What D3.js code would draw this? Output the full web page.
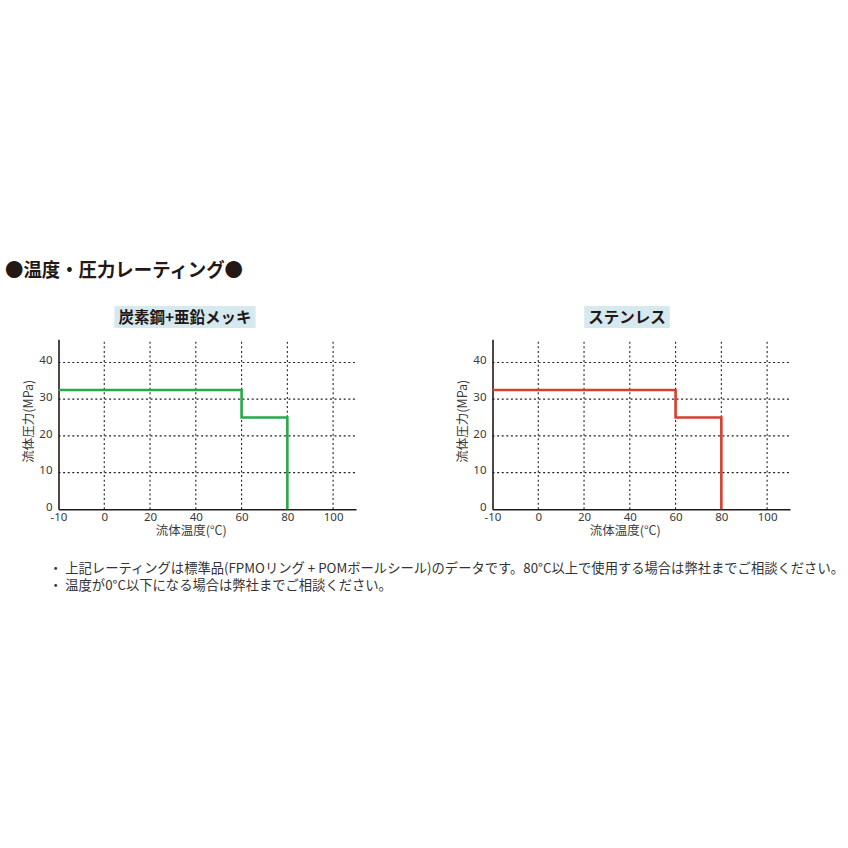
<!DOCTYPE html>
<html>
<head>
<meta charset="utf-8">
<script src="https://cdn.jsdelivr.net/npm/d3@7"></script>
<style>
  html, body { margin: 0; padding: 0; background: #fff; }
  svg { display: block; font-family: "Noto Sans CJK JP", "Noto Sans", sans-serif; }
</style>
</head>
<body>
<svg id="chart" width="848" height="848"></svg>
<script>
// Pressure–temperature rating data (MPa vs °C)
const stepTemps = [-20, 60, 60, 80, 80];          // x breakpoints (axis start, drop at 60, drop at 80)
const carbonSteelPressure = [32.5, 32.5, 25, 25, 0];
const stainlessPressure   = [32.5, 32.5, 25, 25, 0];

const xTickValues = [-20, 0, 20, 40, 60, 80, 100];
const xTickLabels = ["-10", "0", "20", "40", "60", "80", "100"];
const xGridValues = [0, 20, 40, 60, 80, 100];
const yTickValues = [0, 10, 20, 30, 40];
const yGridValues = [10, 20, 30, 40];

const panels = [
  { title: "炭素鋼+亜鉛メッキ", values: carbonSteelPressure, color: "#2aa84a", left: 58.5, titleX: 185 },
  { title: "ステンレス",         values: stainlessPressure,   color: "#d8402e", left: 492.5, titleX: 627 }
];

const svg = d3.select("#chart");
const ink = "#231815";

// Heading
svg.append("text")
  .attr("x", 5).attr("y", 277)
  .attr("font-size", 19).attr("font-weight", 700).attr("fill", ink)
  .attr("textLength", 238).attr("lengthAdjust", "spacingAndGlyphs")
  .text("●温度・圧力レーティング●");

const plotW = 297.5, plotTop = 339.3, plotBottom = 509.3;

panels.forEach(p => {
  const x = d3.scaleLinear().domain([-20, 110]).range([p.left, p.left + plotW]);
  const y = d3.scaleLinear().domain([0, 46.3]).range([plotBottom, plotTop]);
  const g = svg.append("g");

  // Title box
  const tg = g.append("g");
  const tt = tg.append("text")
    .attr("x", p.titleX).attr("y", 323)
    .attr("text-anchor", "middle")
    .attr("font-size", 15.5).attr("font-weight", 700).attr("fill", ink)
    .text(p.title);
  const bb = tt.node().getBBox();
  tg.insert("rect", "text")
    .attr("x", bb.x - 4).attr("y", 306)
    .attr("width", bb.width + 8).attr("height", 22)
    .attr("fill", "#d5e9ef");

  // Dotted grid
  g.append("g").selectAll("line").data(xGridValues).join("line")
    .attr("x1", d => x(d)).attr("x2", d => x(d))
    .attr("y1", plotBottom).attr("y2", plotTop)
    .attr("stroke", "#222").attr("stroke-width", 1.1)
    .attr("stroke-dasharray", "2,2.6");
  g.append("g").selectAll("line").data(yGridValues).join("line")
    .attr("x1", x(-20)).attr("x2", x(110))
    .attr("y1", d => y(d)).attr("y2", d => y(d))
    .attr("stroke", "#222").attr("stroke-width", 1.1)
    .attr("stroke-dasharray", "2,2.6");

  // Axes
  const xAxis = g.append("g").attr("transform", `translate(0,${plotBottom})`)
    .call(d3.axisBottom(x).tickValues(xTickValues).tickSize(0).tickPadding(5)
      .tickFormat((d, i) => xTickLabels[i]));
  const yAxis = g.append("g").attr("transform", `translate(${x(-20)},0)`)
    .call(d3.axisLeft(y).tickValues(yTickValues).tickSize(0).tickPadding(6));
  [xAxis, yAxis].forEach(a => {
    a.select(".domain").attr("stroke", ink).attr("stroke-width", 1.6);
    a.selectAll("text").attr("font-size", 11.5).attr("fill", "#3a3a3a")
      .attr("font-family", "\"Noto Sans\", sans-serif");
  });
  yAxis.selectAll(".tick text").attr("dy", "0.1em");
  xAxis.selectAll(".tick text").attr("dy", "0.55em");

  // Axis titles
  g.append("text")
    .attr("x", x(38)).attr("y", 535)
    .attr("text-anchor", "middle").attr("font-size", 12.5).attr("fill", "#3a3a3a")
    .text("流体温度(°C)");
  g.append("text")
    .attr("transform", `translate(${p.left - 26},${y(24)}) rotate(-90)`)
    .attr("text-anchor", "middle").attr("font-size", 12.5).attr("fill", "#3a3a3a")
    .text("流体圧力(MPa)");

  // Rating step line
  const line = d3.line().x((d, i) => x(stepTemps[i])).y(d => y(d));
  g.append("path").datum(p.values)
    .attr("d", line)
    .attr("fill", "none").attr("stroke", p.color).attr("stroke-width", 2.6)
    .attr("stroke-linejoin", "miter");
});

// Notes
const notes = [
  "・ 上記レーティングは標準品(FPMOリング + POMボールシール)のデータです。80°C以上で使用する場合は弊社までご相談ください。",
  "・ 温度が0°C以下になる場合は弊社までご相談ください。"
];
svg.append("text")
  .attr("font-size", 13.3).attr("fill", "#333")
  .selectAll("tspan").data(notes).join("tspan")
  .attr("x", 49).attr("y", (d, i) => 573 + i * 17)
  .text(d => d);
</script>
</body>
</html>
